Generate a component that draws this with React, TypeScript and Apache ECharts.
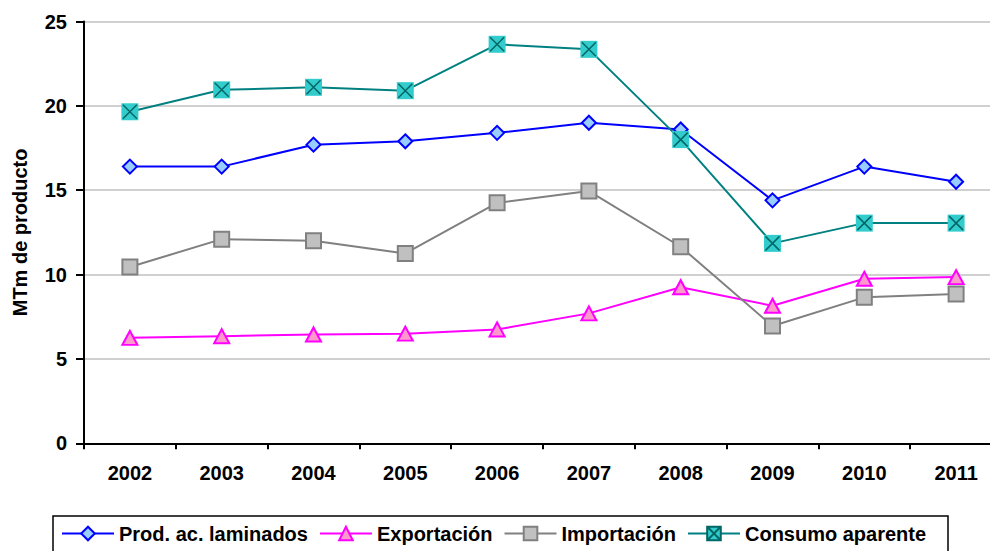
import React, { useEffect, useRef } from "react";
import * as echarts from "echarts";

const years = ["2002", "2003", "2004", "2005", "2006", "2007", "2008", "2009", "2010", "2011"];
const prodLaminados = [16.4, 16.4, 17.7, 17.9, 18.4, 19.0, 18.6, 14.4, 16.4, 15.5];
const exportacion = [6.25, 6.35, 6.45, 6.5, 6.75, 7.7, 9.25, 8.15, 9.75, 9.85];
const importacion = [10.45, 12.1, 12.0, 11.25, 14.25, 14.95, 11.65, 6.95, 8.65, 8.85];
const consumo = [19.65, 20.95, 21.1, 20.9, 23.65, 23.35, 18.0, 11.85, 13.05, 13.05];
const yTicks = { min: 0, max: 25, interval: 5 };
const seriesNames = ["Prod. ac. laminados", "Exportación", "Importación", "Consumo aparente"];
const yAxisTitle = "MTm de producto";

const FONT = "'Liberation Sans', Arial, sans-serif";
const X_PATH = "path://M0,0L10,10M10,0L0,10";
const SQX_PATH = "path://M0,0L10,0L10,10L0,10Z M0.8,0.8L9.2,9.2 M9.2,0.8L0.8,9.2";

export default function App() {
  const ref = useRef<HTMLDivElement>(null);
  useEffect(() => {
    if (!ref.current) return;
    const chart = echarts.init(ref.current, undefined, { renderer: "svg" });
    chart.setOption({
      animation: false,
      textStyle: { fontFamily: FONT },
      grid: { left: 84, right: -12, top: 21.5, bottom: 107.7, outerBoundsMode: "none", containLabel: false },
      graphic: [
        {
          type: "rect",
          shape: { x: 53, y: 516, width: 895, height: 60 },
          style: { fill: "none", stroke: "#000", lineWidth: 1.5 },
          silent: true,
        },
      ],
      legend: {
        left: 61,
        top: 523.5,
        padding: 0,
        itemWidth: 52,
        itemHeight: 17,
        itemGap: 11,
        data: seriesNames,
        textStyle: { fontFamily: FONT, fontSize: 20, fontWeight: "bold", color: "#000" },
      },
      xAxis: {
        type: "category",
        data: years,
        boundaryGap: true,
        axisLine: { lineStyle: { color: "#000", width: 2 } },
        axisTick: { show: true, length: 6, interval: 0, lineStyle: { color: "#000", width: 2 } },
        axisLabel: { interval: 0, margin: 20, fontSize: 20, fontWeight: "bold", color: "#000", fontFamily: FONT },
        splitLine: { show: false },
      },
      yAxis: {
        type: "value",
        min: yTicks.min,
        max: yTicks.max,
        interval: yTicks.interval,
        name: yAxisTitle,
        nameLocation: "middle",
        nameRotate: 90,
        nameGap: 54,
        nameTextStyle: { fontSize: 20, fontWeight: "bold", color: "#000", fontFamily: FONT },
        axisLine: { show: true, lineStyle: { color: "#000", width: 2 } },
        axisTick: { show: true, length: 8, lineStyle: { color: "#000", width: 2 } },
        axisLabel: { margin: 17, fontSize: 20, fontWeight: "bold", color: "#000", fontFamily: FONT },
        splitLine: { show: true, lineStyle: { color: "#C0C0C0", width: 1.5 } },
      },
      series: [
        {
          name: seriesNames[0],
          type: "line",
          data: prodLaminados,
          symbol: "diamond",
          symbolSize: 14,
          lineStyle: { color: "#0000FF", width: 2 },
          itemStyle: { color: "#99CCFF", borderColor: "#0000FF", borderWidth: 2 },
        },
        {
          name: seriesNames[1],
          type: "line",
          data: exportacion,
          symbol: "triangle",
          symbolSize: [15, 14],
          lineStyle: { color: "#FF00FF", width: 2 },
          itemStyle: { color: "#FF99CC", borderColor: "#FF00FF", borderWidth: 2 },
        },
        {
          name: seriesNames[2],
          type: "line",
          data: importacion,
          symbol: "rect",
          symbolSize: 15,
          lineStyle: { color: "#808080", width: 2 },
          itemStyle: { color: "#C0C0C0", borderColor: "#808080", borderWidth: 2 },
        },
        {
          name: seriesNames[3],
          type: "line",
          data: consumo.map((v) => ({ value: v, symbol: "rect", itemStyle: { borderWidth: 0 } })),
          symbol: SQX_PATH,
          symbolSize: 17,
          lineStyle: { color: "#008080", width: 2 },
          itemStyle: { color: "#33CCCC", borderColor: "#006666", borderWidth: 1.2 },
          z: 3,
        },
        {
          name: "_consumoX",
          type: "line",
          data: consumo,
          symbol: X_PATH,
          symbolSize: 14,
          showSymbol: true,
          lineStyle: { opacity: 0, width: 0 },
          itemStyle: { color: "rgba(0,0,0,0)", borderColor: "#006666", borderWidth: 1.5 },
          z: 4,
          silent: true,
        },
      ],
    });
    return () => chart.dispose();
  }, []);
  return (
    <div
      ref={ref}
      style={{ position: "absolute", left: 0, top: 0, width: 990, height: 551, background: "#fff" }}
    />
  );
}
